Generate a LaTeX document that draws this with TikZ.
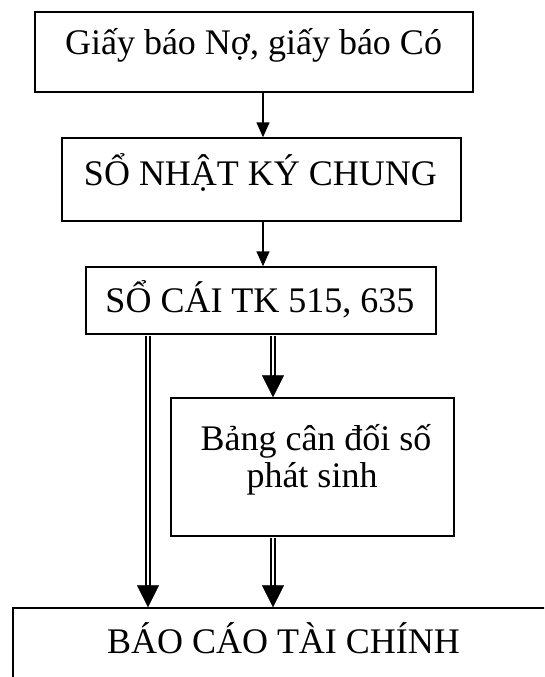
\documentclass[tikz,border=0pt]{standalone}
\usepackage{fontspec}
\setmainfont{Liberation Serif}
\usetikzlibrary{arrows.meta,calc}
\begin{document}
\begin{tikzpicture}[x=1pt,y=-1pt,
  box/.style={draw, line width=1.5pt, inner sep=0pt},
  lbl/.style={inner sep=0pt, anchor=base, font=\fontsize{36}{37}\selectfont},
  onearrow/.style={line width=1.5pt, -{Triangle[length=15pt,width=13pt]}},
  dblshaft/.style={double, double distance=2.5pt, line width=2pt, shorten >=20pt, shorten <=0.75pt},
  dblhead/.style={line width=0.5pt, -{Triangle[length=22pt,width=22pt]}}]
\useasboundingbox (0,0) rectangle (544,677);
\clip (0,0) rectangle (544,677);
% boxes
\node[box, minimum width=438pt, minimum height=80pt]  (b1) at (254,52) {};
\node[box, minimum width=399pt, minimum height=83pt]  (b2) at (261.5,179.5) {};
\node[box, minimum width=350pt, minimum height=67pt]  (b3) at (261,300.5) {};
\node[box, minimum width=283pt, minimum height=138pt] (b4) at (312.5,467) {};
\node[box, minimum width=547pt, minimum height=112pt] (b5) at (286.5,664) {};
% texts
\node[lbl] (t1)  at (253.5,55) {Giấy báo Nợ, giấy báo Có};
\node[lbl] (t2)  at (260.5,185) {SỔ NHẬT KÝ CHUNG};
\node[lbl] (t3)  at (260,312) {SỔ CÁI TK 515, 635};
\node[lbl] (t4a) at (316,450) {Bảng cân đối số};
\node[lbl] (t4b) at (312,487) {phát sinh};
\node[lbl] (t5)  at (283.5,653) {BÁO CÁO TÀI CHÍNH};
% connector columns
\coordinate (xa) at (263,0);
\coordinate (xl) at (148,0);
\coordinate (xr) at (273,0);
% single arrows
\draw[onearrow] (b1.south -| xa) -- (b2.north -| xa);
\draw[onearrow] (b2.south -| xa) -- (b3.north -| xa);
% double arrows
\draw[dblshaft] (b3.south -| xl) -- (b5.north -| xl);
\draw[dblhead] ($(b5.north -| xl)+(0,-22)$) -- (b5.north -| xl);
\draw[dblshaft] (b3.south -| xr) -- (b4.north -| xr);
\draw[dblhead] ($(b4.north -| xr)+(0,-22)$) -- (b4.north -| xr);
\draw[dblshaft] (b4.south -| xr) -- (b5.north -| xr);
\draw[dblhead] ($(b5.north -| xr)+(0,-22)$) -- (b5.north -| xr);
\end{tikzpicture}
\end{document}
